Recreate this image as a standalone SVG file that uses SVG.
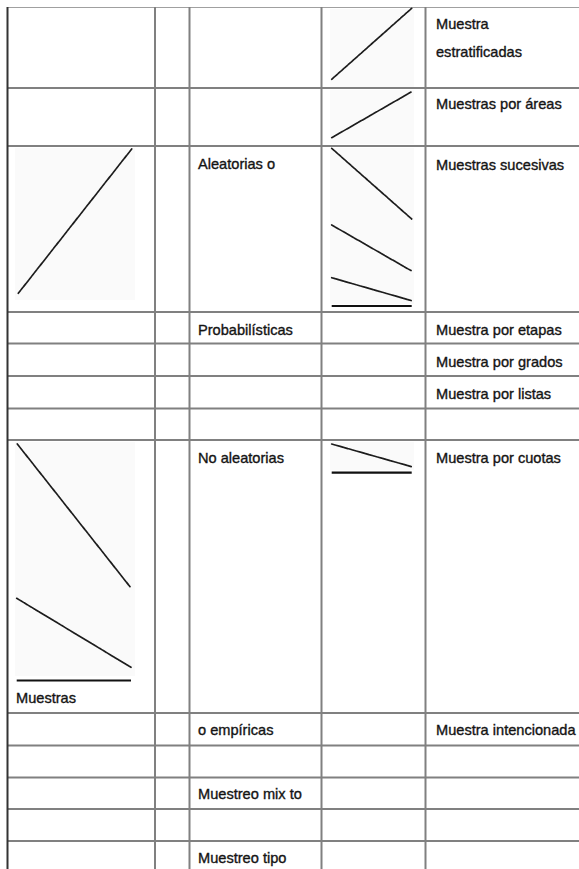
<svg xmlns="http://www.w3.org/2000/svg" width="579" height="869" viewBox="0 0 579 869">
<style>
.bg{fill:#ffffff}
.pic{fill:#fafafa}
.h{stroke:#808080;stroke-width:2;fill:none}
.v{stroke:#808080;stroke-width:2;fill:none}
.d{stroke:#1c1c1c;stroke-width:1.7;stroke-dasharray:3.5 0.9;fill:none;stroke-linecap:round}
.b{stroke:#111;stroke-width:2.2;fill:none}
text{font-family:"Liberation Sans",Arial,sans-serif;font-size:14.6px;fill:#141414;stroke:#141414;stroke-width:0.35}
</style>
<rect class="bg" x="0" y="0" width="579" height="869"/>
<g id="pictures">
<rect class="pic" x="15" y="148" width="120" height="152"/>
<rect class="pic" x="15" y="442" width="120" height="234"/>
<rect class="pic" x="330" y="9" width="84" height="78"/>
<rect class="pic" x="330" y="90" width="84" height="54"/>
<rect class="pic" x="330" y="148" width="84" height="156"/>
<rect class="pic" x="330" y="442" width="84" height="28"/>
</g>
<g id="grid">
<line x1="8" y1="7.5" x2="579" y2="7.5" stroke="#a0a0a0" stroke-width="1"/>
<line class="h" x1="8" y1="88" x2="579" y2="88"/>
<line class="h" x1="8" y1="146" x2="579" y2="146" stroke-width="3"/>
<line class="h" x1="8" y1="312" x2="579" y2="312" stroke-width="2.5"/>
<line class="h" x1="8" y1="343.5" x2="579" y2="343.5"/>
<line class="h" x1="8" y1="376" x2="579" y2="376"/>
<line class="h" x1="8" y1="408.5" x2="579" y2="408.5"/>
<line class="h" x1="8" y1="440" x2="579" y2="440" stroke-width="2.5"/>
<line class="h" x1="8" y1="713" x2="579" y2="713"/>
<line class="h" x1="8" y1="745.5" x2="579" y2="745.5"/>
<line class="h" x1="8" y1="777.5" x2="579" y2="777.5"/>
<line class="h" x1="8" y1="809" x2="579" y2="809"/>
<line class="h" x1="8" y1="841" x2="579" y2="841"/>
<line x1="7.5" y1="7" x2="7.5" y2="869" stroke="#333" stroke-width="2"/>
<line class="v" x1="155" y1="7" x2="155" y2="869" stroke-width="3"/>
<line class="v" x1="189.5" y1="7" x2="189.5" y2="869"/>
<line class="v" x1="321.5" y1="7" x2="321.5" y2="869"/>
<line class="v" x1="425.5" y1="7" x2="425.5" y2="869"/>
</g>
<g id="connectors">
<line class="d" x1="18.3" y1="293.3" x2="131.7" y2="149"/>
<line class="d" x1="17.3" y1="444" x2="130" y2="586.7"/>
<line class="d" x1="16.7" y1="598.3" x2="131" y2="667.3"/>
<line class="b" x1="16.7" y1="680.5" x2="131" y2="680.5"/>
<line class="d" x1="331.7" y1="79.3" x2="411.7" y2="8.3"/>
<line class="d" x1="331.7" y1="137.7" x2="411.7" y2="91.7"/>
<line class="d" x1="331.7" y1="148.3" x2="411.7" y2="219"/>
<line class="d" x1="331.7" y1="225" x2="411.7" y2="271"/>
<line class="d" x1="331.7" y1="277.7" x2="411.7" y2="300.7"/>
<line class="b" x1="331.7" y1="306" x2="411.7" y2="306"/>
<line class="d" x1="331.7" y1="444" x2="411.7" y2="466.7"/>
<line class="b" x1="331.7" y1="472.7" x2="411.7" y2="472.7"/>
</g>
<g id="labels">
<g id="n-muestra-estrat"><text x="436" y="29">Muestra</text><text x="436" y="56.5">estratificadas</text></g>
<g id="n-areas"><text x="436" y="108.5">Muestras por áreas</text></g>
<g id="n-aleatorias"><text x="198" y="169">Aleatorias o</text></g>
<g id="n-sucesivas"><text x="436" y="169.5">Muestras sucesivas</text></g>
<g id="n-probab"><text x="198" y="335">Probabilísticas</text></g>
<g id="n-etapas"><text x="436" y="335">Muestra por etapas</text></g>
<g id="n-grados"><text x="436" y="366.5">Muestra por grados</text></g>
<g id="n-listas"><text x="436" y="399">Muestra por listas</text></g>
<g id="n-noaleat"><text x="198" y="463">No aleatorias</text></g>
<g id="n-cuotas"><text x="436" y="463">Muestra por cuotas</text></g>
<g id="n-muestras"><text x="16" y="703">Muestras</text></g>
<g id="n-empiricas"><text x="198" y="735">o empíricas</text></g>
<g id="n-intenc"><text x="436" y="735">Muestra intencionada</text></g>
<g id="n-mixto"><text x="198" y="798.5">Muestreo mix to</text></g>
<g id="n-tipo"><text x="198" y="862.5">Muestreo tipo</text></g>
</g>
</svg>
